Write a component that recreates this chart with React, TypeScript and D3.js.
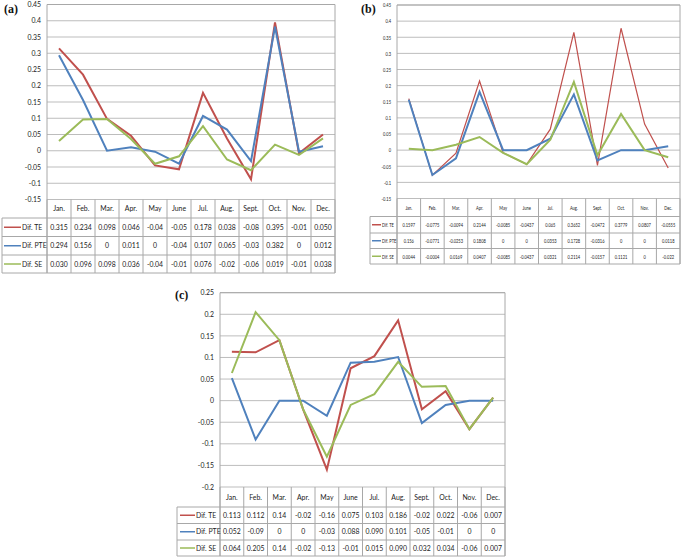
import React from "react";
import * as d3 from "d3";

const MONTHS = ["Jan.", "Feb.", "Mar.", "Apr.", "May", "June", "Jul.", "Aug.", "Sept.", "Oct.", "Nov.", "Dec."];
const SERIES_NAMES = ["Dif. TE", "Dif. PTE", "Dif. SE"];
const COLORS = ["#C0504D", "#4F81BD", "#9BBB59"];

// Panel (a)
const A_TE = [0.315, 0.234, 0.098, 0.046, -0.045, -0.057, 0.178, 0.038, -0.088, 0.395, -0.008, 0.05];
const A_PTE = [0.294, 0.156, 0, 0.011, -0.003, -0.04, 0.107, 0.065, -0.032, 0.382, -0.003, 0.014];
const A_SE = [0.03, 0.096, 0.098, 0.036, -0.04, -0.017, 0.076, -0.027, -0.06, 0.019, -0.013, 0.038];
const A_TE_TXT = ["0.315", "0.234", "0.098", "0.046", "-0.04", "-0.05", "0.178", "0.038", "-0.08", "0.395", "-0.01", "0.050"];
const A_PTE_TXT = ["0.294", "0.156", "0", "0.011", "0", "-0.04", "0.107", "0.065", "-0.03", "0.382", "0", "0.012"];
const A_SE_TXT = ["0.030", "0.096", "0.098", "0.036", "-0.04", "-0.01", "0.076", "-0.02", "-0.06", "0.019", "-0.01", "0.038"];

// Panel (b)
const B_TE = [0.1597, -0.0775, -0.0094, 0.2144, -0.0085, -0.0437, 0.065, 0.3652, -0.0472, 0.3779, 0.0807, -0.0555];
const B_PTE = [0.156, -0.0771, -0.0253, 0.1808, 0, 0, 0.0353, 0.1728, -0.0316, 0, 0, 0.0118];
const B_SE = [0.0044, -0.0004, 0.0169, 0.0407, -0.0085, -0.0437, 0.0321, 0.2114, -0.0157, 0.1121, 0, -0.022];
const B_TE_TXT = ["0.1597", "-0.0775", "-0.0094", "0.2144", "-0.0085", "-0.0437", "0.065", "0.3652", "-0.0472", "0.3779", "0.0807", "-0.0555"];
const B_PTE_TXT = ["0.156", "-0.0771", "-0.0253", "0.1808", "0", "0", "0.0353", "0.1728", "-0.0316", "0", "0", "0.0118"];
const B_SE_TXT = ["0.0044", "-0.0004", "0.0169", "0.0407", "-0.0085", "-0.0437", "0.0321", "0.2114", "-0.0157", "0.1121", "0", "-0.022"];

// Panel (c)
const C_TE = [0.113, 0.112, 0.14, -0.02, -0.16, 0.075, 0.103, 0.186, -0.02, 0.022, -0.066, 0.007];
const C_PTE = [0.052, -0.09, 0, 0, -0.035, 0.088, 0.09, 0.101, -0.052, -0.01, 0, 0];
const C_SE = [0.064, 0.205, 0.14, -0.02, -0.13, -0.01, 0.015, 0.09, 0.032, 0.034, -0.066, 0.007];
const C_TE_TXT = ["0.113", "0.112", "0.14", "-0.02", "-0.16", "0.075", "0.103", "0.186", "-0.02", "0.022", "-0.06", "0.007"];
const C_PTE_TXT = ["0.052", "-0.09", "0", "0", "-0.03", "0.088", "0.090", "0.101", "-0.05", "-0.01", "0", "0"];
const C_SE_TXT = ["0.064", "0.205", "0.14", "-0.02", "-0.13", "-0.01", "0.015", "0.090", "0.032", "0.034", "-0.06", "0.007"];

const TICKS_AB = ["0.45", "0.4", "0.35", "0.3", "0.25", "0.2", "0.15", "0.1", "0.05", "0", "-0.05", "-0.1", "-0.15"];
const TICKS_C = ["0.25", "0.2", "0.15", "0.1", "0.05", "0", "-0.05", "-0.1", "-0.15", "-0.2"];

const FONT = "Lato, 'Open Sans', sans-serif";

type PanelProps = {
  label: string;
  labelX: number;
  labelY: number;
  plotLeft: number;
  plotRight: number;
  yTop: number;
  yBottom: number;
  ticks: string[];
  legendLeft: number;
  rows: number[];
  values: number[][];
  texts: string[][];
  fs: number;
  sx: number;
  widths: number[];
  legendLine: [number, number];
};

function T({ x, y, sx, fs, anchor, children, fill = "#222" }: any) {
  return (
    <text
      transform={`translate(${x},${y}) scale(${sx},1)`}
      fontSize={fs}
      fontFamily={FONT}
      textAnchor={anchor}
      dy="0.35em"
      fill={fill}
    >
      {children}
    </text>
  );
}

function Panel(p: PanelProps) {
  const tickVals = p.ticks.map((t) => parseFloat(t));
  const y = d3
    .scaleLinear()
    .domain([d3.min(tickVals) as number, d3.max(tickVals) as number])
    .range([p.yBottom, p.yTop]);
  const x = d3.scaleBand<string>().domain(MONTHS).range([p.plotLeft, p.plotRight]);
  const cx = (m: string) => (x(m) as number) + x.bandwidth() / 2;
  const line = d3
    .line<number>()
    .x((_, i) => cx(MONTHS[i]))
    .y((d) => y(d));
  const grid = "#BDBDBD";
  const border = "#A8A8A8";
  const bounds = MONTHS.map((m) => x(m) as number).concat([p.plotRight]);
  const r = p.rows;
  return (
    <g>
      <text x={p.labelX} y={p.labelY} fontFamily="'Liberation Serif', 'DejaVu Serif', serif" fontWeight="bold" fontSize={12} fill="#111">
        {p.label}
      </text>
      {tickVals.map((t, i) => (
        <line key={"g" + i} x1={p.plotLeft} x2={p.plotRight} y1={y(t)} y2={y(t)} stroke={grid} strokeWidth={1} />
      ))}
      {tickVals.map((t, i) => (
        <T key={"t" + i} x={p.plotLeft - 6} y={y(t)} sx={p.sx} fs={p.fs} anchor="end">
          {p.ticks[i]}
        </T>
      ))}
      <line x1={p.plotLeft} x2={p.plotLeft} y1={p.yTop} y2={r[4]} stroke={border} />
      <line x1={p.plotRight} x2={p.plotRight} y1={p.yTop} y2={r[4]} stroke={border} />
      <line x1={p.plotLeft} x2={p.plotRight} y1={p.yTop} y2={p.yTop} stroke={border} />
      {/* table */}
      {bounds.map((b, i) => (
        <line key={"v" + i} x1={b} x2={b} y1={r[0]} y2={r[4]} stroke={border} />
      ))}
      <line x1={p.legendLeft} x2={p.legendLeft} y1={r[1]} y2={r[4]} stroke={border} />
      {[1, 2, 3, 4].map((k) => (
        <line key={"h" + k} x1={p.legendLeft} x2={p.plotRight} y1={r[k]} y2={r[k]} stroke={border} />
      ))}
      {MONTHS.map((m) => (
        <T key={"m" + m} x={cx(m)} y={(r[0] + r[1]) / 2} sx={p.sx} fs={p.fs} anchor="middle">
          {m}
        </T>
      ))}
      {SERIES_NAMES.map((s, k) => {
        const ym = (r[k + 1] + r[k + 2]) / 2;
        return (
          <g key={"s" + k}>
            <line x1={p.legendLine[0]} x2={p.legendLine[1]} y1={ym} y2={ym} stroke={COLORS[k]} strokeWidth={1.5} />
            <T x={p.legendLine[1] + 1} y={ym} sx={p.sx} fs={p.fs} anchor="start">
              {s}
            </T>
            {MONTHS.map((m, i) => (
              <T key={m} x={cx(m)} y={ym} sx={p.sx} fs={p.fs} anchor="middle">
                {p.texts[k][i]}
              </T>
            ))}
          </g>
        );
      })}
      {p.values.map((v, k) => (
        <path key={"l" + k} d={line(v) as string} fill="none" stroke={COLORS[k]} strokeWidth={p.widths[k]} strokeLinejoin="miter" />
      ))}
    </g>
  );
}

export default function App() {
  return (
    <svg width={685} height={558} style={{ position: "absolute", left: 0, top: 0, background: "#fff" }}>
      <rect width={685} height={558} fill="#fff" />
      <Panel
        label="(a)"
        labelX={4}
        labelY={13}
        plotLeft={47}
        plotRight={335}
        yTop={4.5}
        yBottom={199.5}
        ticks={TICKS_AB}
        legendLeft={2}
        rows={[199.5, 218, 236.5, 255, 273]}
        values={[A_TE, A_PTE, A_SE]}
        texts={[A_TE_TXT, A_PTE_TXT, A_SE_TXT]}
        fs={7.5}
        sx={0.92}
        widths={[2, 2, 2]}
        legendLine={[4, 21]}
      />
      <Panel
        label="(b)"
        labelX={361}
        labelY={13}
        plotLeft={397}
        plotRight={680}
        yTop={5}
        yBottom={198.5}
        ticks={TICKS_AB}
        legendLeft={370}
        rows={[198.5, 216.5, 233, 248.5, 264]}
        values={[B_TE, B_PTE, B_SE]}
        texts={[B_TE_TXT, B_PTE_TXT, B_SE_TXT]}
        fs={6.5}
        sx={0.62}
        widths={[1.2, 2, 2]}
        legendLine={[372, 381]}
      />
      <Panel
        label="(c)"
        labelX={175}
        labelY={299}
        plotLeft={220}
        plotRight={505}
        yTop={292.7}
        yBottom={487}
        ticks={TICKS_C}
        legendLeft={177}
        rows={[487, 507, 523.5, 540, 556]}
        values={[C_TE, C_PTE, C_SE]}
        texts={[C_TE_TXT, C_PTE_TXT, C_SE_TXT]}
        fs={7.5}
        sx={0.92}
        widths={[2, 2, 2]}
        legendLine={[180, 195]}
      />
    </svg>
  );
}
